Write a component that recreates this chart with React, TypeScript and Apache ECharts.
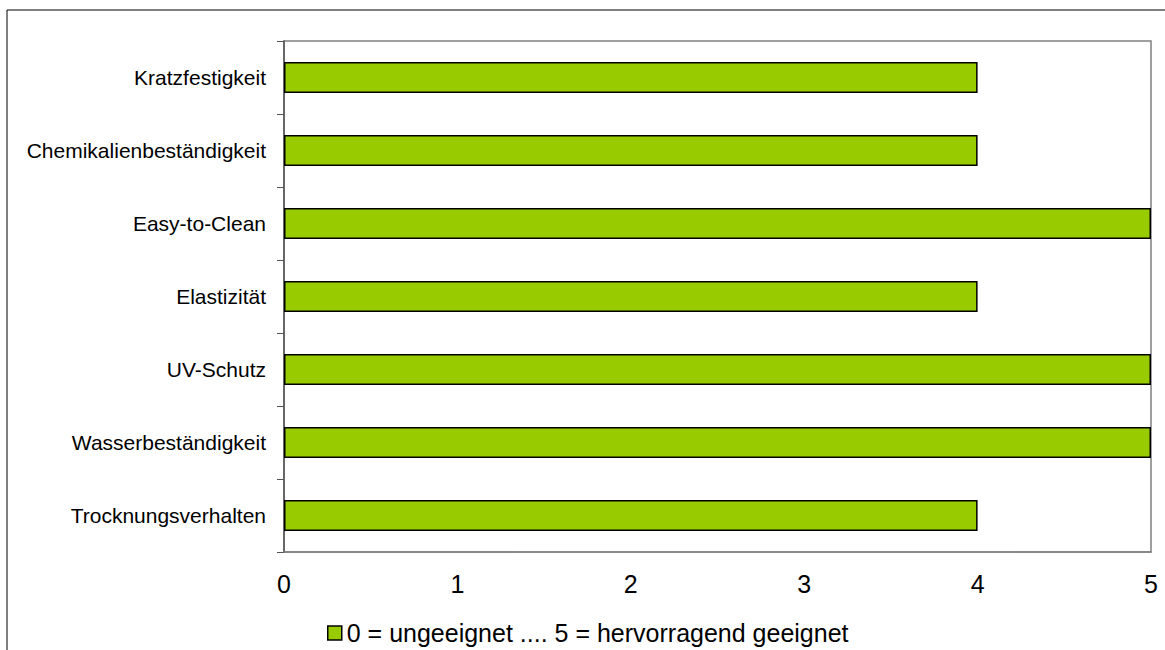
import React, { useEffect, useRef } from "react";
import * as echarts from "echarts";

const categories = [
  "Trocknungsverhalten",
  "Wasserbeständigkeit",
  "UV-Schutz",
  "Elastizität",
  "Easy-to-Clean",
  "Chemikalienbeständigkeit",
  "Kratzfestigkeit",
];
const values = [4, 5, 5, 4, 5, 4, 4];
const seriesName = "0 = ungeeignet .... 5 = hervorragend geeignet";
const xTicks = [0, 1, 2, 3, 4, 5];

const FONT = "Liberation Sans, Arial, sans-serif";

export default function App() {
  const ref = useRef<HTMLDivElement>(null);
  useEffect(() => {
    if (!ref.current) return;
    const chart = echarts.init(ref.current, null, { renderer: "svg" });
    chart.setOption({
      animation: false,
      textStyle: { fontFamily: FONT },
      graphic: [
        {
          type: "rect",
          shape: { x: 7, y: 10, width: 1250, height: 700 },
          style: { fill: "none", stroke: "#000", lineWidth: 1 },
          silent: true,
        },
      ],
      grid: {
        left: 284,
        top: 41,
        width: 867,
        height: 511,
        show: true,
        borderColor: "#808080",
        borderWidth: 1.5,
        backgroundColor: "#fff",
      },
      legend: {
        left: 322,
        top: 614,
        padding: 5,
        itemWidth: 14,
        itemHeight: 14,
        itemGap: 5,
        textStyle: { fontSize: 25, lineHeight: 28, color: "#000", fontFamily: FONT },
        data: [
          {
            name: seriesName,
            icon: "rect",
            itemStyle: { color: "#99CC00", borderColor: "#000", borderWidth: 1.5 },
          },
        ],
      },
      xAxis: {
        type: "value",
        min: xTicks[0],
        max: xTicks[xTicks.length - 1],
        interval: 1,
        axisLine: { show: true, lineStyle: { color: "#808080", width: 1.5 } },
        axisTick: { show: false },
        splitLine: { show: false },
        axisLabel: { fontSize: 25, color: "#000", margin: 19, fontFamily: FONT },
      },
      yAxis: {
        type: "category",
        data: categories,
        axisLine: { show: true, lineStyle: { color: "#555", width: 1.5 } },
        axisTick: { show: true, length: 7, lineStyle: { color: "#555" } },
        axisLabel: { fontSize: 21, color: "#000", margin: 18, fontFamily: FONT },
      },
      series: [
        {
          name: seriesName,
          type: "bar",
          data: values,
          barWidth: 31,
          itemStyle: { color: "#99CC00", borderColor: "#000", borderWidth: 1.5 },
        },
      ],
    });
    return () => chart.dispose();
  }, []);
  return (
    <div
      ref={ref}
      style={{ position: "absolute", left: 0, top: 0, width: 1165, height: 650, background: "#fff" }}
    />
  );
}
